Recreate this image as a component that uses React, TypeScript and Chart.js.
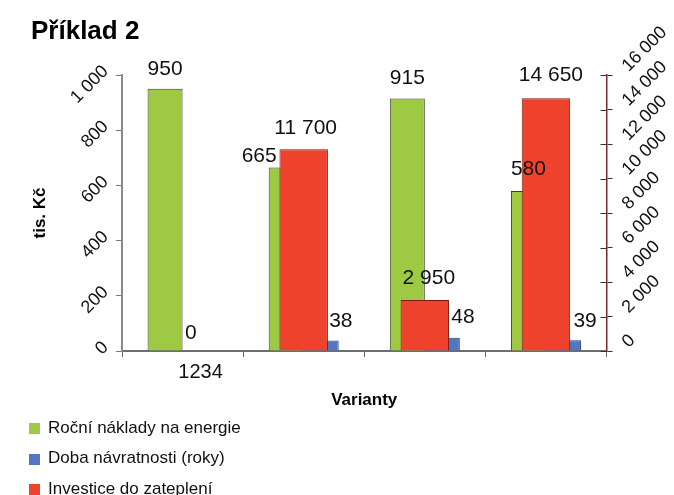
import React, { useEffect, useRef } from "react";
import { Chart, registerables } from "chart.js";

Chart.register(...registerables);

// ---- data ----
const categories = ["1234", "", "", ""];
const seriesNames = [
  "Roční náklady na energie",
  "Doba návratnosti (roky)",
  "Investice do zateplení",
];
const energyCosts = [950, 665, 915, 580];
const paybackYears = [0, 38, 48, 39];
const investment = [null, 11700, 2950, 14650];
const leftAxisMax = 1000;
const leftAxisStep = 200;
const rightAxisMax = 16000;
const rightAxisStep = 2000;

// ---- styles ----
const FONT = "'Liberation Sans', Arial, sans-serif";
const colors = ["#9DC943", "#5176C2", "#EE422C"];
const borders = ["#3c3c28", "#1f3a78", "#7a1a10"];
// label placement per dataset: [dx, dy] relative to bar top centre
const labelPlacement = [
  [[0, -20], [-27, -11], [0, -20], [0, -22]],
  [[-15, -18], [8, -19], [9, -21], [10, -19]],
  [[0, 0], [2, -21], [4, -22], [5, -23]],
];
const labelAlign = ["center", "left", "center"];

const fmt = (v: number) =>
  String(Math.round(v)).replace(/\B(?=(\d{3})+(?!\d))/g, " ");

const valueLabels = {
  id: "valueLabels",
  afterDatasetsDraw(chart: any) {
    const ctx = chart.ctx;
    ctx.save();
    ctx.font = `21px ${FONT}`;
    ctx.fillStyle = "#111";
    ctx.textBaseline = "middle";
    chart.data.datasets.forEach((ds: any, di: number) => {
      const meta = chart.getDatasetMeta(di);
      meta.data.forEach((bar: any, i: number) => {
        const v = ds.data[i];
        if (v == null) return;
        const p = bar.getProps(["x", "y"], true);
        const [dx, dy] = labelPlacement[di][i];
        ctx.textAlign = labelAlign[di];
        ctx.fillText(fmt(v), p.x + dx, p.y + dy);
      });
    });
    ctx.restore();
  },
};

// right axis tick marks cross the axis line (inner half)
const crossTicks = {
  id: "crossTicks",
  afterDraw(chart: any) {
    const s = chart.scales.y2;
    if (!s) return;
    const ctx = chart.ctx;
    ctx.save();
    ctx.strokeStyle = "#333";
    ctx.lineWidth = 1;
    s.ticks.forEach((t: any) => {
      const y = Math.round(s.getPixelForValue(t.value)) + 0.5;
      ctx.beginPath();
      ctx.moveTo(s.left - 6, y);
      ctx.lineTo(s.left, y);
      ctx.stroke();
    });
    ctx.restore();
  },
};

export default function App() {
  const ref = useRef<HTMLCanvasElement>(null);

  useEffect(() => {
    Chart.defaults.font.family = FONT;
    const chart = new Chart(ref.current as HTMLCanvasElement, {
      type: "bar",
      data: {
        labels: categories,
        datasets: [
          {
            label: seriesNames[0],
            data: energyCosts,
            backgroundColor: colors[0],
            borderColor: borders[0],
            borderWidth: 1,
            yAxisID: "y",
            order: 1,
            categoryPercentage: 0.578,
            barPercentage: 1,
          },
          {
            label: seriesNames[1],
            data: paybackYears,
            backgroundColor: colors[1],
            borderColor: borders[1],
            borderWidth: 1,
            yAxisID: "y",
            order: 1,
            categoryPercentage: 0.578,
            barPercentage: 1,
          },
          {
            label: seriesNames[2],
            data: investment,
            backgroundColor: colors[2],
            borderColor: borders[2],
            borderWidth: 1,
            yAxisID: "y2",
            order: 0,
            grouped: false,
            categoryPercentage: 1,
            barPercentage: 0.4,
          },
        ] as any,
      },
      options: {
        responsive: false,
        animation: false,
        layout: { padding: { left: 0, right: 0, top: 75, bottom: 84 } },
        plugins: {
          legend: { display: false },
          tooltip: { enabled: false },
          title: { display: false },
        },
        scales: {
          x: {
            type: "category",
            offset: true,
            grid: {
              display: true,
              drawOnChartArea: false,
              drawTicks: true,
              tickLength: 6,
              color: "#666",
              offset: true,
            },
            border: { display: true, color: "#6e6e6e", width: 2 },
            ticks: {
              color: "#111",
              font: { size: 20 },
              padding: 3,
              labelOffset: 18,
              maxRotation: 0,
              autoSkip: false,
            },
            title: {
              display: true,
              text: "Varianty",
              color: "#000",
              font: { size: 17, weight: "bold" },
              padding: 0,
            },
            afterFit: (s: any) => {
              s.height = 60;
            },
          },
          y: {
            position: "left",
            min: 0,
            max: leftAxisMax,
            grid: {
              drawOnChartArea: false,
              drawTicks: true,
              tickLength: 6,
              color: "#777",
            },
            border: { display: true, color: "#8a8a8a", width: 2 },
            ticks: {
              stepSize: leftAxisStep,
              minRotation: 45,
              maxRotation: 45,
              autoSkip: false,
              align: "end",
              padding: 4,
              color: "#111",
              font: { size: 18 },
              callback: (v: any) => fmt(Number(v)),
            },
            title: {
              display: true,
              text: "tis. Kč",
              color: "#000",
              font: { size: 17, weight: "bold" },
              padding: { top: 30, bottom: 0 },
            },
            afterFit: (s: any) => {
              s.width = 122;
            },
          },
          y2: {
            position: "right",
            min: 0,
            max: rightAxisMax,
            grid: {
              drawOnChartArea: false,
              drawTicks: true,
              tickLength: 6,
              color: "#333",
            },
            border: { display: true, color: "#7a2a2a", width: 1.5 },
            ticks: {
              stepSize: rightAxisStep,
              minRotation: 45,
              maxRotation: 45,
              autoSkip: false,
              align: "end",
              padding: 19,
              color: "#111",
              font: { size: 18 },
              callback: (v: any) => fmt(Number(v)),
            },
            afterFit: (s: any) => {
              s.width = 67.5;
            },
          },
        } as any,
      },
      plugins: [valueLabels, crossTicks],
    });
    return () => chart.destroy();
  }, []);

  const legendTops = [423, 453.5, 484];

  return (
    <div
      style={{
        position: "fixed",
        left: 0,
        top: 0,
        width: 674,
        height: 495,
        background: "#fff",
        fontFamily: FONT,
        overflow: "hidden",
      }}
    >
      <canvas
        ref={ref}
        width={674}
        height={495}
        style={{ position: "absolute", left: 0, top: 0, width: 674, height: 495 }}
      />
      <div
        style={{
          position: "absolute",
          left: 31,
          top: 17,
          fontSize: 26,
          fontWeight: "bold",
          lineHeight: "26px",
          color: "#000",
          whiteSpace: "nowrap",
        }}
      >
        Příklad 2
      </div>
      {seriesNames.map((name, i) => (
        <React.Fragment key={name}>
          <div
            style={{
              position: "absolute",
              left: 29,
              top: legendTops[i],
              width: 11,
              height: 11,
              background: colors[i],
            }}
          />
          <div
            style={{
              position: "absolute",
              left: 48,
              top: legendTops[i] - 4.4,
              fontSize: 17,
              lineHeight: "17px",
              color: "#111",
              whiteSpace: "nowrap",
            }}
          >
            {name}
          </div>
        </React.Fragment>
      ))}
    </div>
  );
}
